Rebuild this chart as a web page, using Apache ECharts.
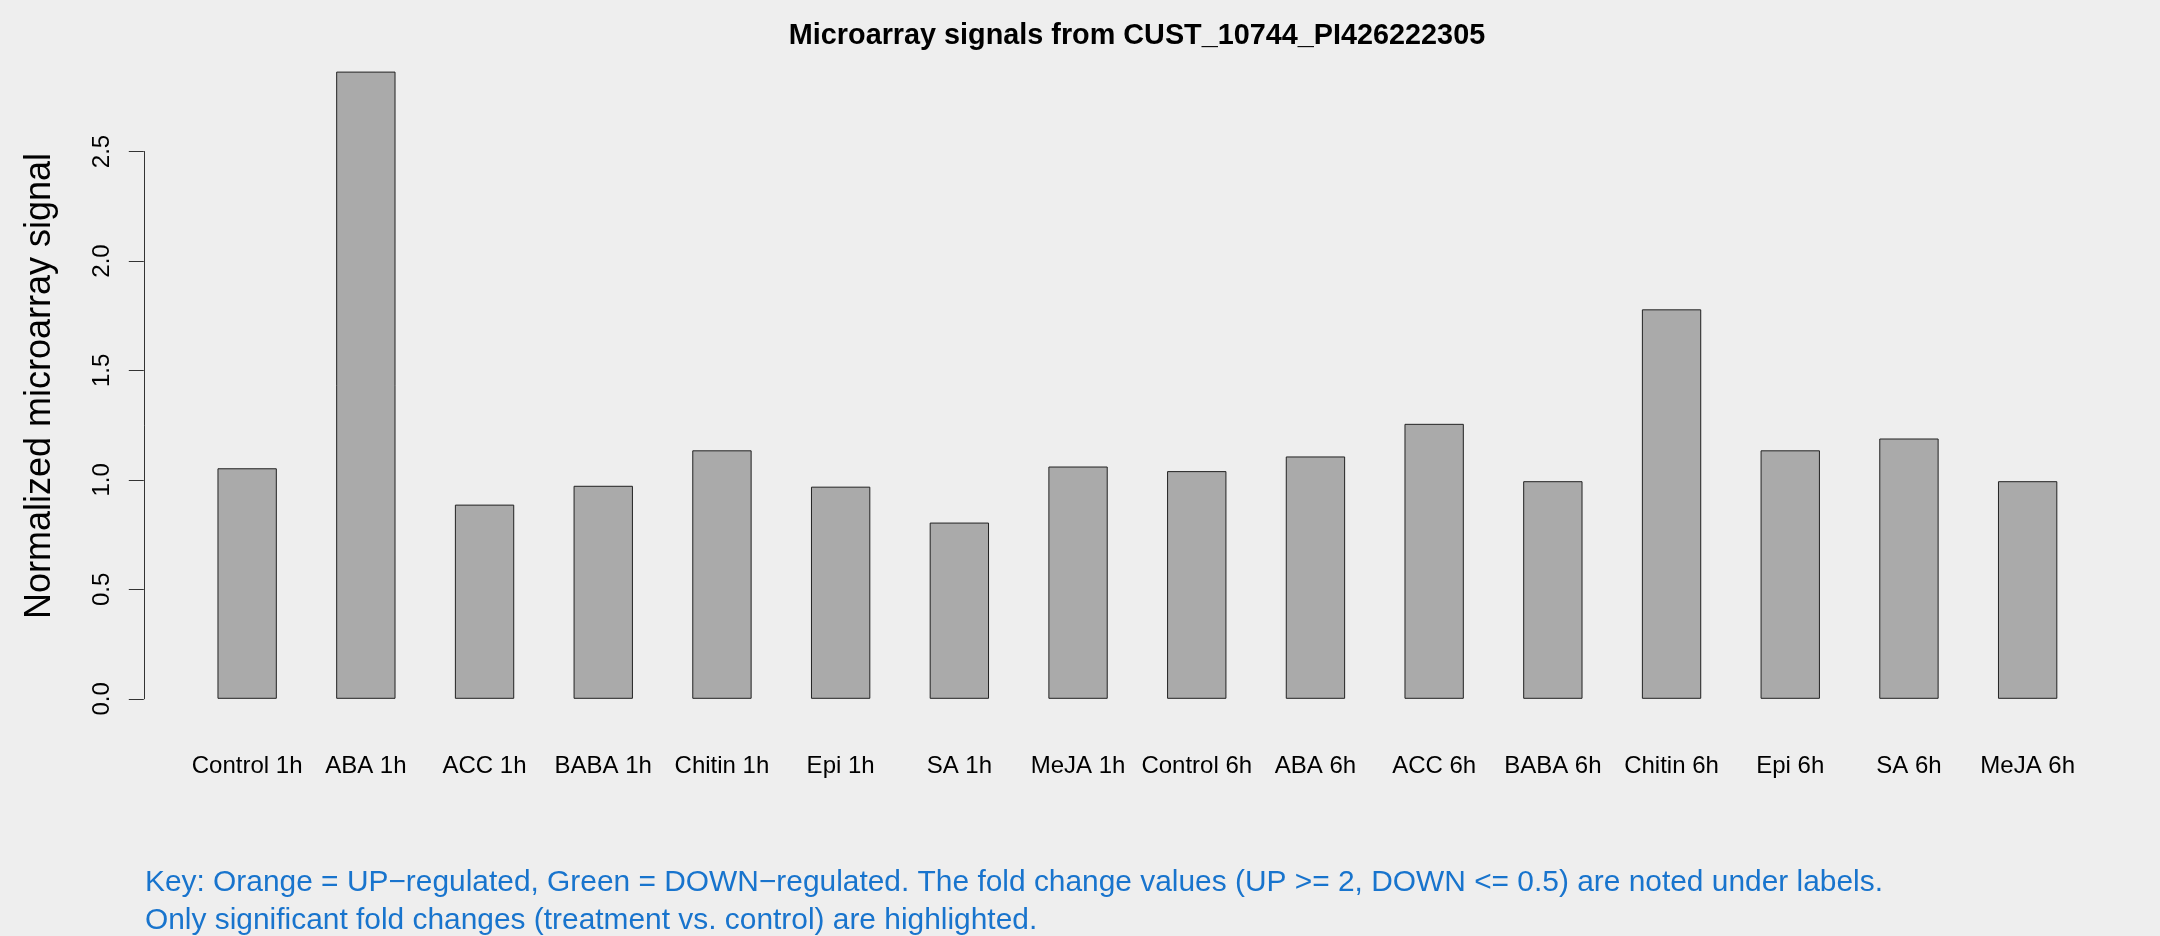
<!DOCTYPE html>
<html>
<head>
<meta charset="utf-8">
<script src="https://cdn.jsdelivr.net/npm/echarts@6/dist/echarts.min.js"></script>
<style>
html,body{margin:0;padding:0;background:#EEEEEE;}
#chart{width:2160px;height:936px;}
</style>
</head>
<body>
<div id="chart"></div>
<script>
const categories = ["Control 1h","ABA 1h","ACC 1h","BABA 1h","Chitin 1h","Epi 1h","SA 1h","MeJA 1h",
                    "Control 6h","ABA 6h","ACC 6h","BABA 6h","Chitin 6h","Epi 6h","SA 6h","MeJA 6h"];
const signalValues = [1.053,2.865,0.887,0.973,1.135,0.969,0.805,1.061,
                      1.040,1.107,1.256,0.994,1.779,1.135,1.189,0.994];
const yTicks = [0.0,0.5,1.0,1.5,2.0,2.5];
const titleText = "Microarray signals from CUST_10744_PI426222305";
const yAxisTitle = "Normalized microarray signal";
const keyLines = [
  "Key: Orange = UP\u2212regulated, Green = DOWN\u2212regulated. The fold change values (UP >= 2, DOWN <= 0.5) are noted under labels.",
  "Only significant fold changes (treatment vs. control) are highlighted."
];

const FONT = "'Liberation Sans', Arial, Helvetica, sans-serif";
const chart = echarts.init(document.getElementById('chart'));
const option = {
  backgroundColor: '#EEEEEE',
  animation: false,
  grid: { left: 187.8, width: 1899.2, top: 151.5, bottom: 237.2, containLabel: false },
  xAxis: {
    type: 'category',
    data: categories,
    axisLine: { show: false },
    axisTick: { show: false },
    axisLabel: { interval: 0, fontSize: 24, fontFamily: FONT, color: '#000', margin: 56 }
  },
  yAxis: {
    type: 'value',
    min: yTicks[0],
    max: yTicks[yTicks.length - 1],
    interval: 0.5,
    offset: 44,
    splitLine: { show: false },
    axisLine: { show: true, lineStyle: { color: '#333', width: 1 } },
    axisTick: { show: true, length: 15, lineStyle: { color: '#333', width: 1 } },
    axisLabel: {
      rotate: 90, fontSize: 24, fontFamily: FONT, color: '#000', margin: 29,
      formatter: v => v.toFixed(1)
    }
  },
  series: [{
    type: 'bar',
    data: signalValues,
    barWidth: '50%',
    clip: false,
    itemStyle: { color: '#AAAAAA', borderColor: '#222', borderWidth: 1 },
    silent: true
  }],
  graphic: [
    { type: 'text', x: 1137, y: 36, style: { text: titleText, font: "bold 28.8px " + FONT, fill: '#000', textAlign: 'center', textVerticalAlign: 'middle' } },
    { type: 'text', x: 40, y: 386, rotation: Math.PI / 2, style: { text: yAxisTitle, font: "36px " + FONT, fill: '#000', textAlign: 'center', textVerticalAlign: 'middle' } },
    { type: 'text', x: 145, y: 883, style: { text: keyLines[0], font: "29.9px " + FONT, fill: '#1874CD', textAlign: 'left', textVerticalAlign: 'middle' } },
    { type: 'text', x: 145, y: 921, style: { text: keyLines[1], font: "29.9px " + FONT, fill: '#1874CD', textAlign: 'left', textVerticalAlign: 'middle' } }
  ]
};
chart.setOption(option);
</script>
</body>
</html>
